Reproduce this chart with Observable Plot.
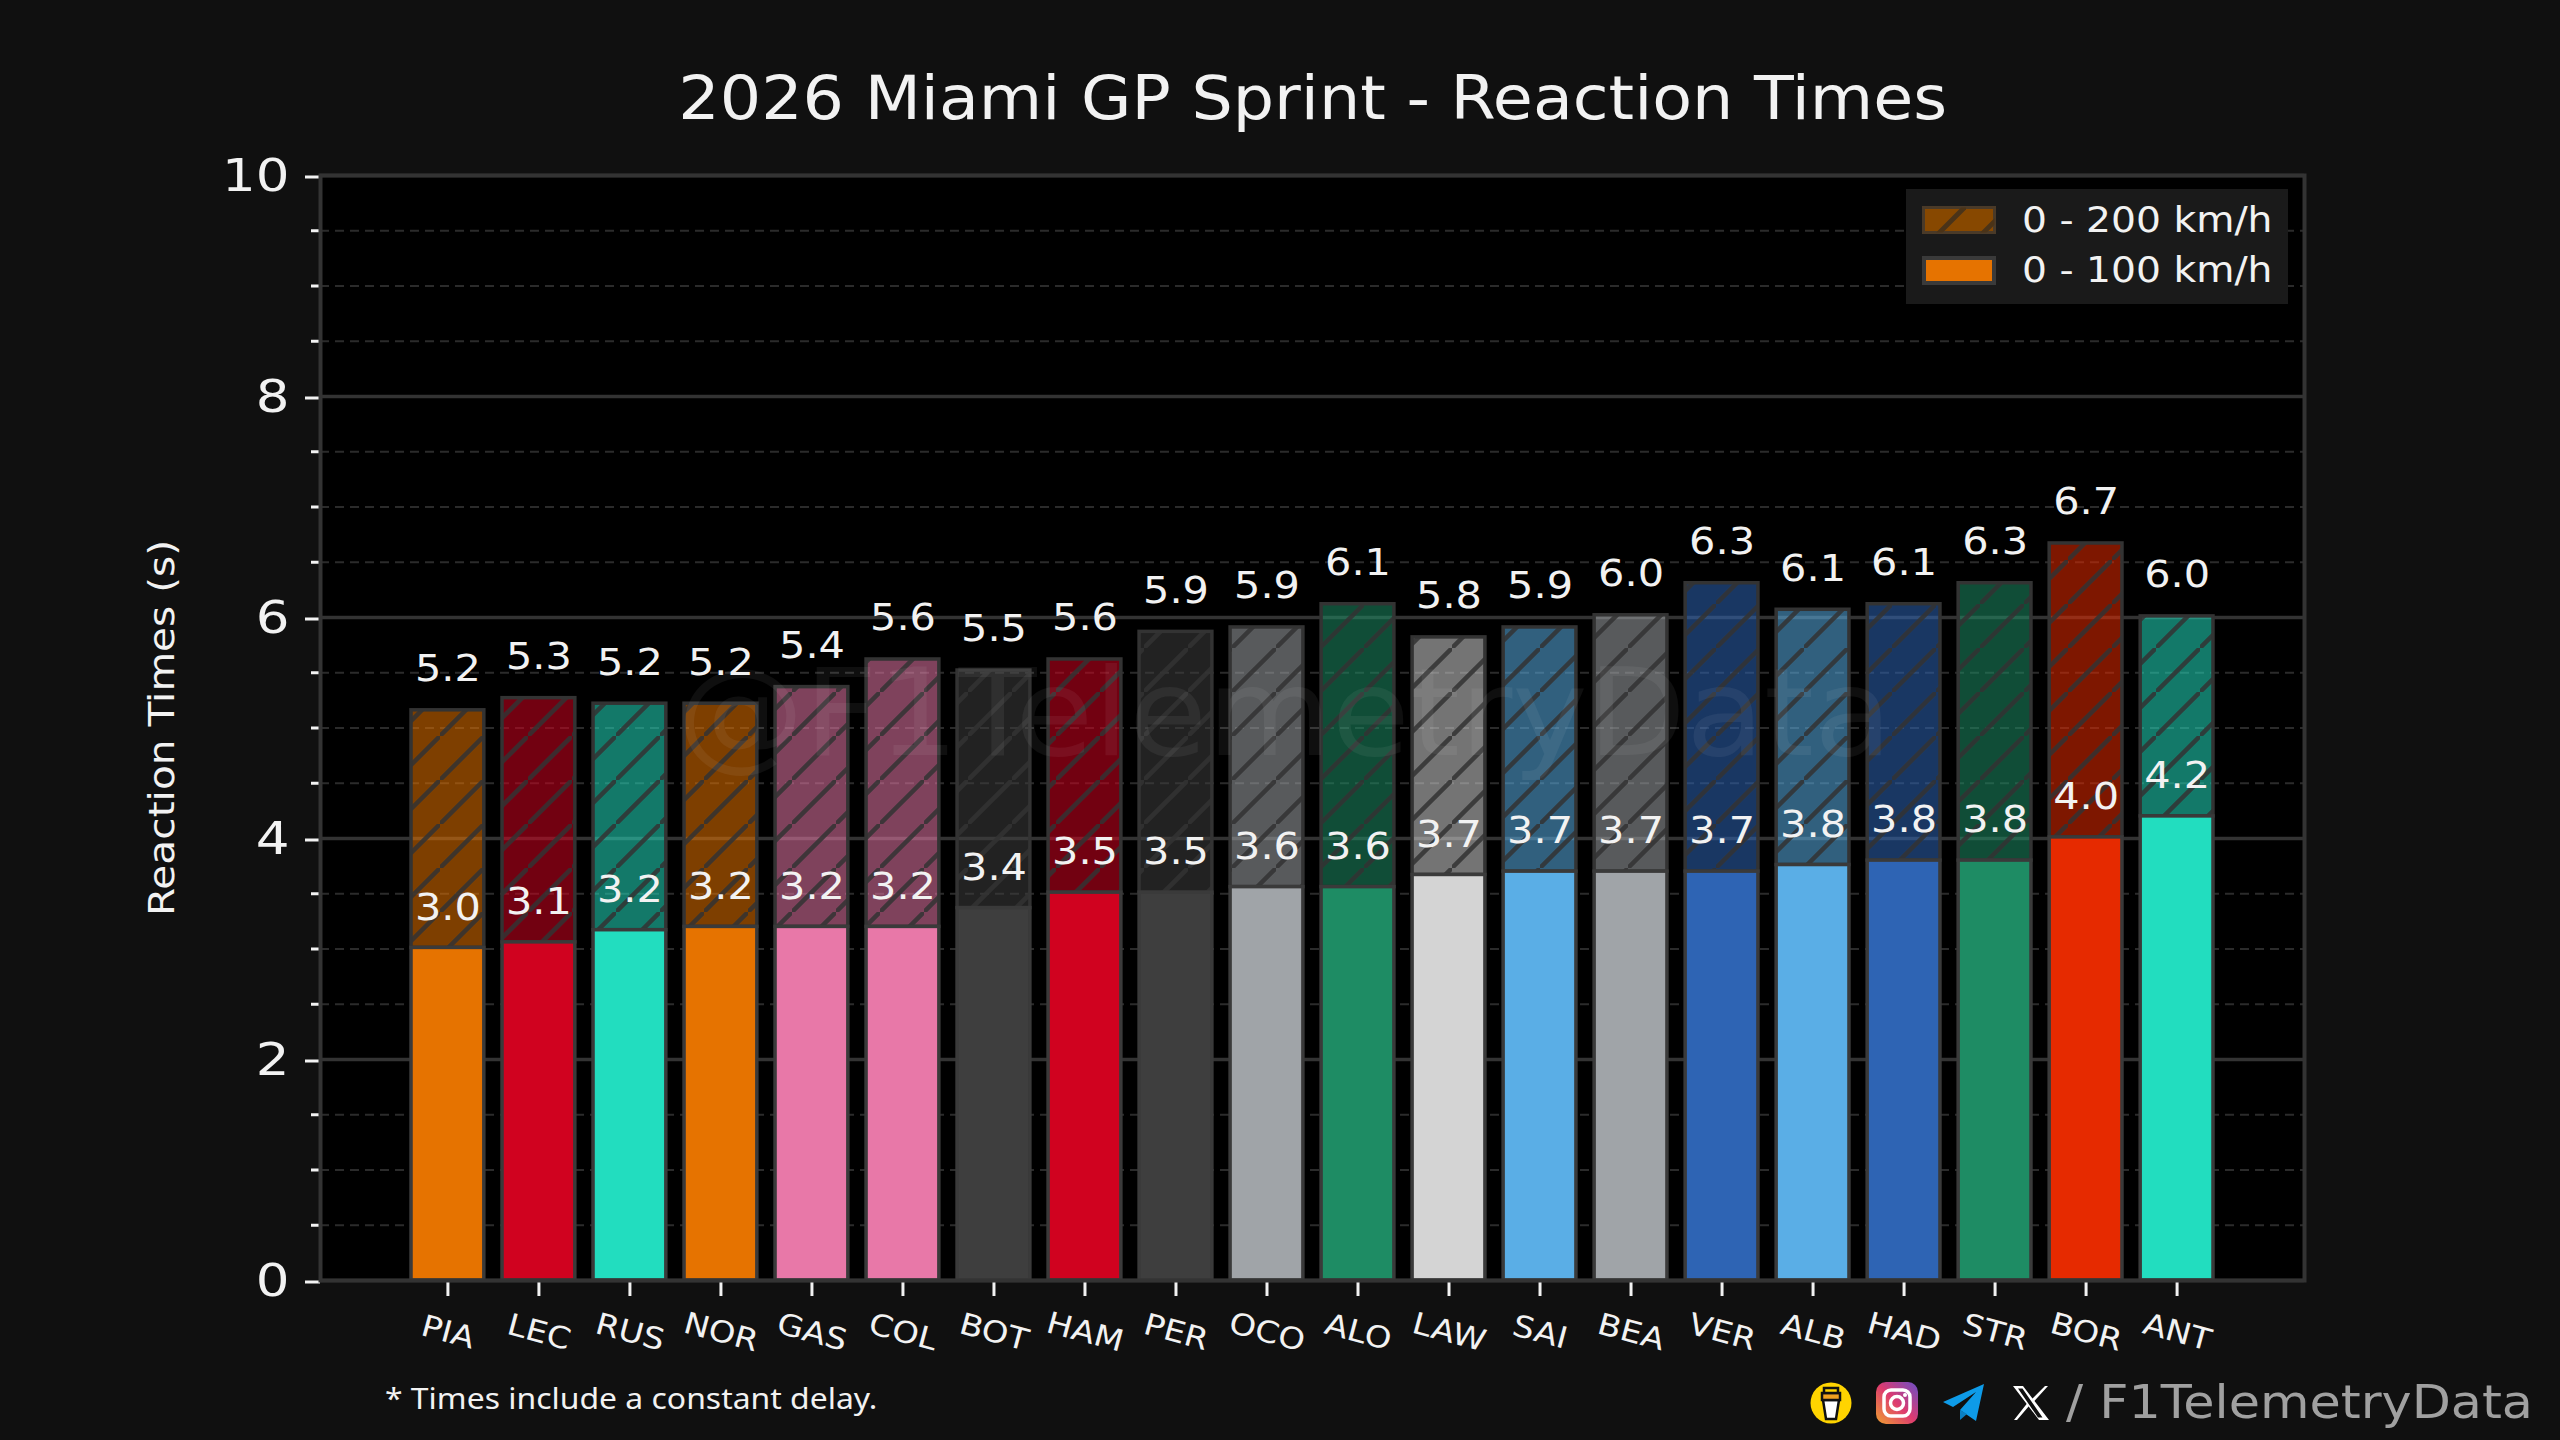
<!DOCTYPE html>
<html>
<head>
<meta charset="utf-8">
<script src="https://cdn.jsdelivr.net/npm/d3@7"></script>
<script src="https://cdn.jsdelivr.net/npm/@observablehq/plot@0.6"></script>
<style>
html,body{margin:0;padding:0;background:#101010;}
#page{position:relative;width:2560px;height:1440px;overflow:hidden;background:#101010;color:#f2f2f2;font-family:"DejaVu Sans",sans-serif;}
#title{position:absolute;left:680px;top:58px;width:1265px;text-align:center;font-size:60px;line-height:80px;white-space:nowrap;}
#title span{display:inline-block;transform:scaleX(1.085);}
#chart{position:absolute;left:0;top:120px;}
#note{position:absolute;left:385px;top:1378px;font-family:"Noto Sans",sans-serif;font-size:29px;line-height:40px;white-space:nowrap;transform-origin:left center;transform:scaleX(1.1);}
#brand{position:absolute;left:2066px;top:1372px;font-size:46px;line-height:60px;color:#a0a0a0;white-space:nowrap;transform-origin:left center;transform:scaleX(1.105);}
#legend{position:absolute;left:1906px;top:189px;width:382px;height:115px;background:#1a1a1a;}
#legend svg{position:absolute;left:16px;}
#legend div{position:absolute;left:116px;font-size:36px;line-height:44px;white-space:nowrap;transform-origin:left center;transform:scaleX(1.09);}
.icon{position:absolute;}
</style>
</head>
<body>
<div id="page">
  <div id="title"><span>2026 Miami GP Sprint - Reaction Times</span></div>
  <div id="chart"></div>
  <div id="legend">
    <svg style="top:17px" width="74" height="28"><defs><pattern id="lh" patternUnits="userSpaceOnUse" width="44" height="44"><path d="M-6 50L50 -6" stroke="#4a3318" stroke-width="5"/></pattern></defs><rect x="1.5" y="1.5" width="71" height="25" fill="#874800" stroke="#4a3a28" stroke-width="3"/><rect x="1.5" y="1.5" width="71" height="25" fill="url(#lh)"/></svg>
    <div style="top:9px">0 - 200 km/h</div>
    <svg style="top:67px" width="74" height="29"><rect x="2" y="2" width="70" height="25" fill="#E67300" stroke="#3a3a3a" stroke-width="4"/></svg>
    <div style="top:59px">0 - 100 km/h</div>
  </div>
  <div id="note">* Times include a constant delay.</div>
  <svg class="icon" style="left:1810px;top:1382px" width="42" height="42" viewBox="0 0 42 42"><ellipse cx="21" cy="21" rx="20.5" ry="20.5" fill="#FFD400"/><path d="M13 18h16l-3 19h-10z" fill="#fff" stroke="#111" stroke-width="2.5"/><path d="M12 11h18v7h-18z" fill="#f0a020" stroke="#111" stroke-width="2.5"/><path d="M14 6h14v5h-14z" fill="#FFD400" stroke="#111" stroke-width="2.5"/></svg>
  <svg class="icon" style="left:1876px;top:1382px" width="42" height="42" viewBox="0 0 42 42"><defs><linearGradient id="ig" x1="0" y1="1" x2="1" y2="0"><stop offset="0" stop-color="#f0a030"/><stop offset=".5" stop-color="#dd3a70"/><stop offset="1" stop-color="#6a4fc8"/></linearGradient></defs><rect width="42" height="42" rx="10" fill="url(#ig)"/><rect x="8" y="8" width="26" height="26" rx="7" fill="none" stroke="#fff" stroke-width="3.5"/><circle cx="21" cy="21" r="6.5" fill="none" stroke="#fff" stroke-width="3.5"/><circle cx="29" cy="13" r="2" fill="#fff"/></svg>
  <svg class="icon" style="left:1943px;top:1384px" width="42" height="38" viewBox="0 0 42 38"><path d="M41 0L33 37L17 26L33 8L10 23L0 18z" fill="#0E9BE8"/><path d="M17 26L17 36L24 30z" fill="#0A7FC2"/></svg>
  <svg class="icon" style="left:2012px;top:1385px" width="38" height="36" viewBox="0 0 38 36"><path d="M1 1h10l26 34h-10zM6 3.500l20 29h4.500l-20-29z" fill="#fff" fill-rule="evenodd"/><path d="M33 1h3L21 17.500l-2-2.500zM2 35h3L17 21l-2-2.500z" fill="#fff"/></svg>
  <div id="brand">/ F1TelemetryData</div>
</div>
<script>
const drivers = ["PIA","LEC","RUS","NOR","GAS","COL","BOT","HAM","PER","OCO","ALO","LAW","SAI","BEA","VER","ALB","HAD","STR","BOR","ANT"];
const time100 = [3.01,3.06,3.17,3.2,3.2,3.2,3.37,3.51,3.51,3.56,3.56,3.67,3.7,3.7,3.7,3.76,3.8,3.8,4.01,4.2];
const time200 = [5.16,5.27,5.22,5.22,5.37,5.62,5.52,5.62,5.87,5.91,6.12,5.82,5.91,6.02,6.31,6.07,6.12,6.31,6.67,6.01];
const colors = ["#E67300","#D0021F","#22DDBF","#E67300","#E878A8","#E878A8","#3E3E3E","#D0021F","#3E3E3E","#A0A4A8","#1E8C64","#D4D4D4","#5AAEE6","#A0A4A8","#2E64B4","#5AAEE6","#2E64B4","#1E8C64","#E62A00","#22DDBF"];
const yMajor = [0,2,4,6,8,10];
const yMinor = [0.5,1,1.5,2.5,3,3.5,4.5,5,5.5,6.5,7,7.5,8.5,9,9.5];

const rows = drivers.map((d,i)=>({driver:d,a:time100[i],b:time200[i],color:colors[i]}));
const fmt = d3.format(".1f");
const gridC = "#333333";

const hatchDefs = () => {
  const s = d3.create("svg:defs");
  const p = s.append("pattern").attr("id","hatch").attr("patternUnits","userSpaceOnUse")
    .attr("width",44).attr("height",44);
  p.append("path").attr("d","M-6 50L50 -6").attr("stroke","#333333").attr("stroke-opacity",0.85).attr("stroke-width",4.5);
  return s.node();
};

const plot = Plot.plot({
  width:2560, height:1200,
  marginTop:55, marginBottom:40, marginLeft:320, marginRight:256,
  style:{background:"transparent",color:"#f2f2f2",fontFamily:"'DejaVu Sans',sans-serif",overflow:"visible"},
  x:{domain:drivers,paddingInner:0.2,paddingOuter:1,round:false,label:null},
  y:{domain:[0,10],label:null},
  marks:[
    hatchDefs,
    Plot.frame({fill:"#000000",stroke:"none"}),
    Plot.gridY(yMinor,{stroke:"#2b2b2b",strokeOpacity:1,strokeWidth:2,strokeDasharray:"9,6"}),
    Plot.gridY(yMajor,{stroke:gridC,strokeOpacity:1,strokeWidth:3.5}),
    Plot.barY(rows,{x:"driver",y1:"a",y2:"b",fill:d=>d.color,fillOpacity:0.55,stroke:gridC,strokeWidth:3.5}),
    Plot.barY(rows,{x:"driver",y1:"a",y2:"b",fill:"url(#hatch)"}),
    Plot.barY(rows,{x:"driver",y1:0,y2:"a",fill:d=>d.color,stroke:"#3a3a3a",strokeWidth:3.5}),
    Plot.text(["@F1TelemetryData"],{frameAnchor:"middle",dx:-28,dy:-12,fontSize:122,fill:"#ffffff",fillOpacity:0.06,text:d=>d}),
    Plot.text(rows,{x:"driver",y:"b",text:d=>fmt(d.b),dy:-41,fontSize:37,fill:"#f2f2f2"}),
    Plot.text(rows,{x:"driver",y:"a",text:d=>fmt(d.a),dy:-40,fontSize:37,fill:"#f2f2f2"}),
    Plot.axisY(yMajor,{tickSize:15,tickPadding:16,fontSize:45,stroke:"#f2f2f2",strokeWidth:3,fill:"#f2f2f2",label:null,tickFormat:d=>String(d),textStroke:"none",dy:1.5}),
    Plot.tickY(yMinor,{y:d=>d,stroke:"#f2f2f2",strokeWidth:3,insetLeft:-9,insetRight:1984}),
    Plot.axisX(drivers,{tickSize:16,tickPadding:36,fontSize:30,tickRotate:15,textAnchor:"middle",stroke:"#f2f2f2",strokeWidth:3,fill:"#f2f2f2",label:null}),
    Plot.frame({stroke:gridC,strokeWidth:4}),
    Plot.text(["Reaction Times (s)"],{frameAnchor:"left",rotate:-90,textAnchor:"middle",dx:-158,fontSize:36,fill:"#f2f2f2",text:d=>d})
  ]
});
document.getElementById("chart").appendChild(plot);

// Stretch the glyphs horizontally: the reference face is much wider than the installed ones.
const stretch = {45:1.18, 37:1.12, 30:1.13, 36:1.13, 122:1.045};
const widen = (t, f) => {
  if (!f) return;
  t.setAttribute("textLength", t.getComputedTextLength()*f);
  t.setAttribute("lengthAdjust","spacingAndGlyphs");
};
plot.querySelectorAll("g[font-size]").forEach(g => {
  const f = stretch[+g.getAttribute("font-size")];
  g.querySelectorAll("text").forEach(t => widen(t, f));
});
plot.querySelectorAll("text[font-size]").forEach(t => widen(t, stretch[+t.getAttribute("font-size")]));
</script>
</body>
</html>
